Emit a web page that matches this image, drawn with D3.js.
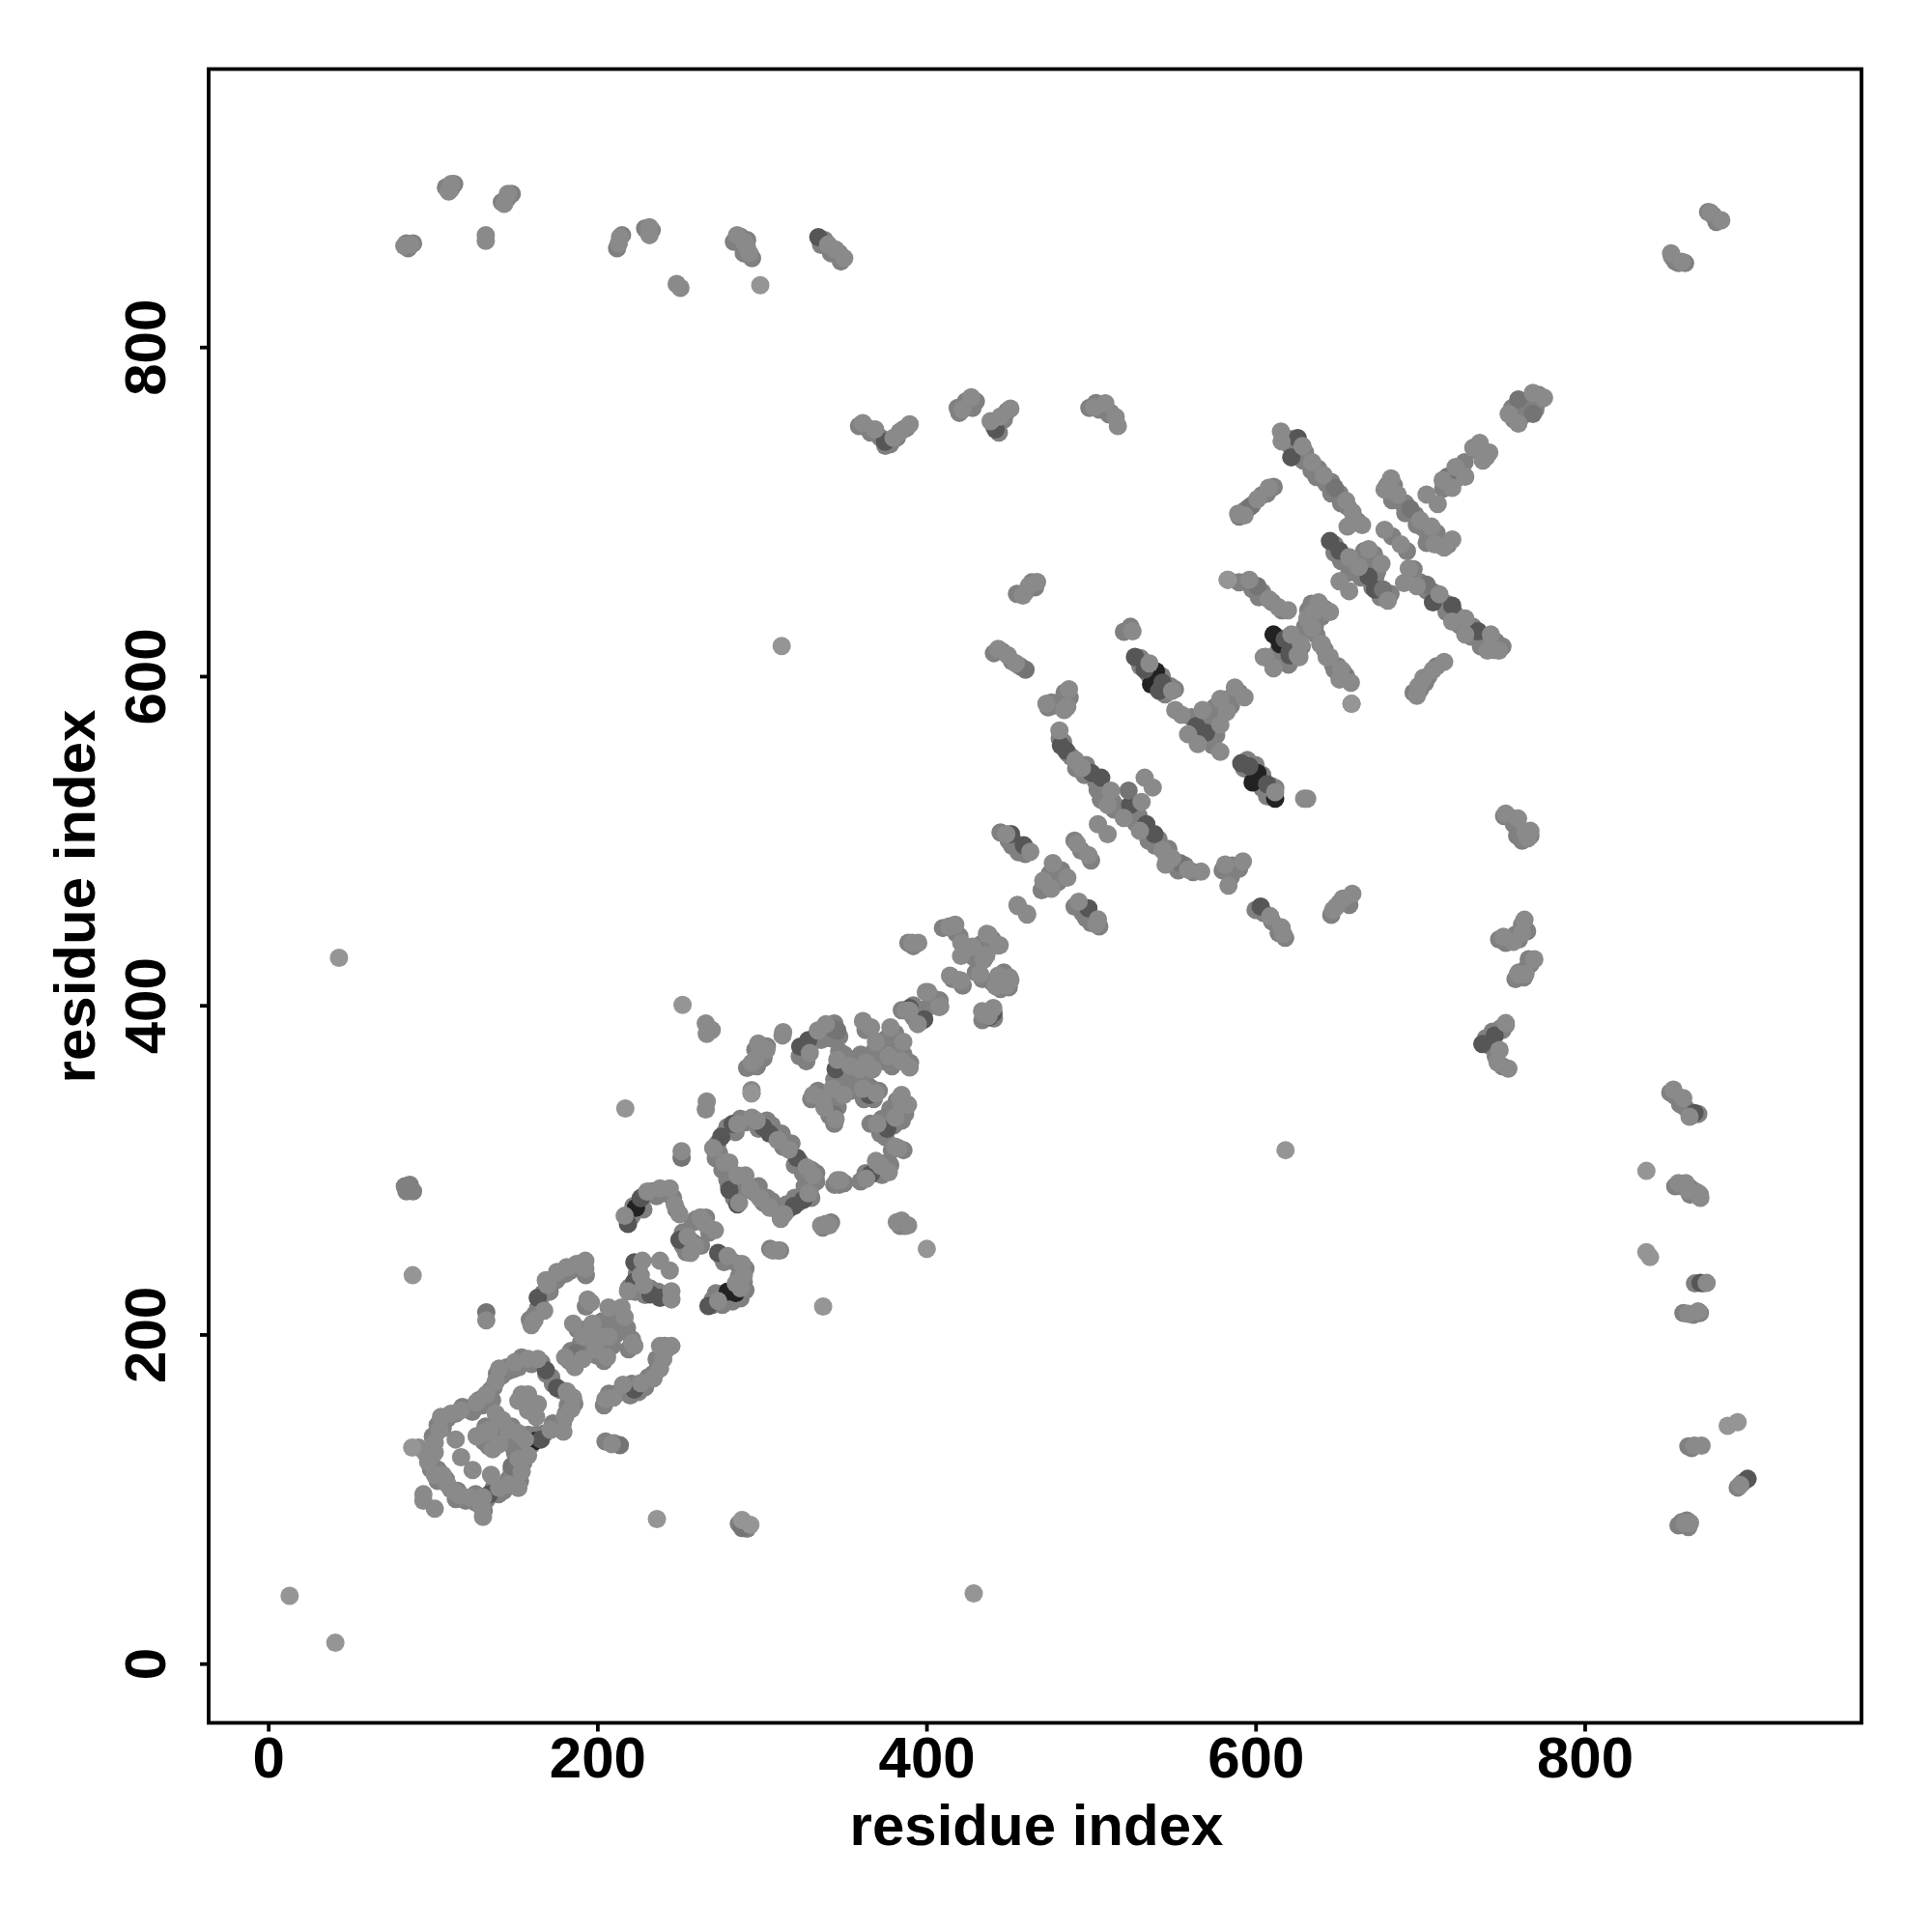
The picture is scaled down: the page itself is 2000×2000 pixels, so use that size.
<!DOCTYPE html>
<html><head><meta charset="utf-8">
<script src="https://cdn.jsdelivr.net/npm/d3@7/dist/d3.min.js"></script>
<style>html,body{margin:0;padding:0;background:#fff}text{font-family:"Liberation Sans",Arial,sans-serif;font-weight:bold;fill:#000}</style>
</head><body><svg id="c" width="2000" height="2000" xmlns="http://www.w3.org/2000/svg"></svg>
<script>
const xTickValues=[0,200,400,600,800];
const yTickValues=[0,200,400,600,800];
const xTitle="residue index";
const yTitle="residue index";
const contactsVeryDark=[[161.8,135.2],[223.5,277],[284.1,225.2],[279.2,226.1],[539.5,602.9],[536.5,595],[601.1,541.2],[598.2,535.4],[611.9,525.6],[610.9,625.3],[614.8,619.5]];
const contactsDark=[[168.7,178.3],[175.5,167.5],[165.7,136.2],[134.4,103],[163.8,222.3],[222.5,166.5],[222.5,243.8],[222.5,232.1],[232.3,224.3],[238.1,222.3],[323.3,374.9],[328.2,378.8],[218.6,267.2],[226.4,282.9],[249.9,257.5],[273.4,249.6],[267.5,217.3],[275.3,320.1],[282.2,327.9],[300.8,326],[304.7,322],[321.3,307.4],[325.2,281.9],[319.4,278],[280.2,287.8],[285.1,279],[366.3,297.6],[376.1,325],[365.3,345.5],[344.8,361.2],[389.8,398.4],[398.6,391.5],[440.7,395.4],[526.7,611.7],[532.6,603.9],[543.4,596],[541.4,591.1],[591.3,547.1],[596.2,545.2],[607,534.4],[481.7,557.9],[484.7,554.9],[500.3,541.2],[506.2,538.3],[523.8,521.7],[533.6,510],[538.5,504],[451.4,504],[459.2,497.2],[498.4,459],[603.1,460],[563.9,569.6],[569.8,565.7],[621.7,733],[625.6,744.7],[719.5,642.9],[735.2,627.3],[707.8,644.9],[645.2,682.1],[651,676.2],[672.6,652.7],[668.7,660.5],[620.7,612.6],[617.7,622.5],[620.7,614.6],[374.8,742.5],[442,750],[334.3,866.8],[397.3,390.7],[438.4,393],[737.8,376.5],[745.3,381.7],[866.7,334.6],[870.4,231.3],[899,112.3]];
const contactsMid=[[187.3,189],[148,120],[343.8,385.6],[345.8,384.7],[343.8,333.8],[522.8,530.5],[554.1,486.4],[648.1,714.4],[703.9,655.6],[694.1,701.6],[716.6,721.2],[759.7,768.2],[768.5,759.4],[677.5,652.7],[601.1,654.7],[596.2,702.6],[653,602.8],[132.5,213.5],[288,82.4],[460.2,603.9],[213.7,132.7],[251.2,307.4]];
const contactsBaseUnder=[[618,745],[622,744],[621,740],[626,737],[630,736],[629,731],[634,725],[638,726],[637,721],[643,717],[646,718],[646,711],[651,711],[652,705],[656,703],[660,696],[662,694],[683,685],[692,676],[696,665],[700,657],[704,652],[708,651],[709,646],[713,645],[716,644],[716,639],[721,638],[723,636],[724,631],[730,630],[732,630],[731,624],[737,623],[739,622],[737,618],[744,620],[746,621],[745,616],[750,618],[680,716],[684,716],[683,707],[688,706],[691,705],[691,699],[697,698],[698,692],[702,690],[705,685],[710,687],[704,681],[712,680],[717,680],[648,680],[648,675],[654,672],[652,670],[658,667],[657,663],[664,671],[664,660],[670,668],[671,654],[673,661],[676,648],[678,648],[682,650],[666,676],[672,674],[674,664],
[446,615],[452,609],[457,606],[441,614],[529,609],[530,606],[534,607],[537,600],[540,599],[543,600],[546,593],[530,611],[535,601],[545,589],[548,594],[551,592],[593,544],[598,541],[601,536],[604,540],[604,532],[608,530],[595,549],[600,546],[607,527],[610,533],[612,532],
[481,562],[483,560],[486,553],[488,551],[491,544],[496,540],[497,546],[503,536],[504,531],[508,531],[506,525],[513,524],[514,519],[517,520],[520,518],[524,515],[527,511],[529,515],[535,504],[535,500],[539,497],[541,501],[546,490],[547,495],[553,482],[551,487],[557,485],[562,481],
[572,576],[575,581],[583,586],[590,590],[565,572],[572,562],[574,558],[585,582],[570,575],[561,575],[576,564],[574,570],[630,630],[637,634],[642,641],[640,636],[632,640],[634,644],[627,625],[615,623],[613,614],[623,619],[618,611],[620,607],[628,618],[622,610],[637,625],[636,630],[648,604],[647,607],[642,616],[655,600],[650,606],[590,657],[598,653],[604,651],[602,648],[610,645],[616,640],[607,711],[598,704],[604,710],[611,715],[590,697],[594,701],[700,592],[705,600],[710,606],[703,596],[696,590],[725,724],[717,716],[722,720],[714,714],[735,737],[740,733],[727,730],[756,763],[762,765],[765,762],[771,766],[772,771],[762,758],[757,756],[770,762],
[85,860],[84,863],[88,863],[111,896],[108,897],[113,899],[145,890],[148,893],[142,888],[231,870],[229,872],[233,871],[212,860],[215,868],[283,864],[287,867],[291,865],[289,857],[294,854],[338,865],[336,862],[342,857],[347,857],[348,852],[359,752],[364,751],[366,748],[372,745],[375,740],[378,741],[386,750],[382,745],[388,751],[424,767],[420,760],[424,765],[430,767],[428,763],[419,763],[441,752],[444,748],[447,756],[449,761],[503,766],[505,762],[499,763],[512,760],[511,759],[455,650],[460,651],[464,657],[466,654],[853,855],[855,852],[857,851],[861,851],[875,882],[878,880],[880,876],
[751,515],[755,514],[757,510],[760,506],[763,503],[762,500],[767,503],[759,503],[748,440],[752,438],[760,440],[758,443],[762,449],[765,445],[763,448],[766,428],[765,423],[760,420],[767,425],[758,416],[763,417],[740,380],[743,375],[744,384],[749,386],[750,385],[752,388],[742,378],[746,369],[750,363],[852,347],[855,345],[858,340],[861,338],[865,333],[869,334],[855,290],[859,290],[864,289],[867,287],[870,285],[864,285],[872,231],[867,231],[866,212],[860,213],[870,213],[865,131],[863,132],[896,110],[893,107],[857,84],[863,83],[862,87],[859,86],[290,84],[291,82],[286,85],[83,290],[85,288],[88,287],[84,287],[86,291],
[100,138],[103,145],[107,147],[102,140],[106,143],[109,149],[114,152],[118,156],[122,155],[128,160],[124,153],[130,157],[135,166],[130,161],[137,168],[136,160],[139,176],[142,175],[145,180],[146,178],[149,179],[154,186],[152,180],[160,182],[166,183],[169,176],[172,174],[173,170],[178,166],[183,160],[182,157],[186,158],[181,152],[179,146],[176,144],[173,146],[168,140],[163,139],[158,139],[160,133],[154,132],[153,129],[150,136],[148,133],[144,140],[141,145],[99,125],[99,118],[103,118],[103,111],[108,112],[111,106],[115,105],[114,100],[120,99],[126,98],[126,103],[133,100],[131,93],[137,107],[140,103],[143,105],[146,112],[150,111],[153,111],[148,118],[152,120],[155,122],[150,128],[156,130],[131,135],[134,132],[137,136],[132,144],[136,137],[140,145],[148,144],
[193,217],[199,204],[203,208],[209,207],[212,213],[210,203],[205,204],[193,203],[188,203],[195,195],[203,193],[209,193],[211,200],[200,187],[204,184],[184,190],[183,184],[190,195],[218,204],[221,197],[219,191],[162,212],[159,209],[164,216],[165,219],[167,225],[171,226],[172,232],[175,233],[178,236],[181,237],[184,239],[190,243],[193,236],[204,157],[207,164],[212,164],[218,165],[221,170],[220,163],[225,165],[229,168],[231,174],[234,176],[237,181],[236,185],[242,191],[241,193],[210,134],[205,135],[225,240],[224,237],[226,233],[220,229],[223,226],[229,224],[232,228],[235,225],[237,226],[241,224],[244,224],[224,243],[219,228],
[219,270],[221,272],[222,278],[225,280],[228,284],[228,276],[233,287],[236,284],[241,286],[244,285],[246,283],[248,276],[258,268],[260,270],[266,271],[268,262],[252,262],[252,254],[254,250],[258,256],[263,254],[275,248],[277,244],[281,245],[285,243],[290,240],[289,232],[286,235],[290,227],[282,226],[282,220],[278,222],[276,218],[270,218],[272,225],[270,221],[287,222],
[273,316],[277,322],[279,326],[284,323],[287,331],[290,329],[298,325],[303,330],[306,327],[308,321],[312,322],[313,314],[318,316],[320,303],[323,305],[325,298],[330,300],[333,293],[326,290],[328,292],[322,280],[320,283],[316,276],[315,279],[310,275],[306,281],[303,283],[301,280],[296,286],[298,290],[290,291],[288,287],[282,292],[283,283],[279,294],[276,300],[274,310],[280,290],[272,307],[333,298],[329,287],[330,283],[299,371],[303,375],[297,363],[291,362],[296,373],[301,368],[325,370],[328,375],[333,381],[331,378],[336,379],[340,384],[342,380],[347,381],[344,389],[327,366],[323,369],
[340,343],[334,348],[330,343],[346,338],[341,333],[344,328],[351,350],[354,348],[358,355],[353,355],[348,362],[356,367],[360,370],[363,353],[366,350],[362,343],[368,343],[371,348],[350,370],[347,372],[356,360],[360,358],[349,358],[344,355],[365,368],[371,372],[363,385],[372,378],[368,372],[376,380],[381,383],[383,373],[374,366],[379,363],[386,370],[390,365],[366,328],[372,322],[375,320],[380,327],[383,335],[385,330],[387,334],[378,337],[382,342],[373,331],[369,298],[373,297],[375,304],[363,298],[360,293],[378,303],[387,266],[384,266],[337,265],[342,268],[347,291],[350,292],[344,291],[386,312],[379,312],[305,252],[311,251],
[392,400],[385,397],[392,393],[394,390],[400,398],[403,405],[408,403],[396,395],[414,448],[410,447],[418,444],[420,442],[416,416],[422,412],[429,429],[426,435],[433,437],[440,440],[440,414],[446,411],[450,411],[447,420],[445,410],[437,395],[441,392],[434,391],[430,420],[434,416],[392,436],[389,438],
[450,500],[455,498],[456,493],[460,492],[445,505],[452,497],[490,500],[494,494],[500,488],[475,480],[480,475],[482,482],[470,470],[490,460],[495,456],[500,450],[497,453],[505,448],[600,458],[605,456],[610,451],[614,444],[618,441],[651,462],[655,463],[646,455],[657,461],[585,478],[590,483],[580,482],[586,485],[484,590],[487,587],[482,585],[474,581],[477,582],[520,627],[524,630],[476,584]];
const contactsBase=[[91.4,131.3],[95.3,128.4],[101.2,134.2],[98.2,128.4],[104.1,142],[105,149.9],[111,151.9],[116.8,153.8],[126.6,158.7],[132.5,163.6],[138.3,171.4],[140.3,179.2],[150,183.2],[157.9,185.1],[163.8,185.1],[181.4,165.5],[185.3,161.6],[184.3,154.8],[180.4,149.9],[179.4,141],[171.6,142],[156,136.2],[152,140.1],[146.2,142],[138.3,151.9],[142.3,148],[101.2,128.4],[97.2,122.5],[101.2,114.7],[106,114.7],[109,108.8],[112.9,104.9],[116.8,102],[122.7,101],[130.5,101],[130.5,89.2],[129.5,95.1],[140.3,106.8],[146.2,108.8],[152,106.8],[154,116.6],[152,124.4],[157.9,126.4],[94.3,102.9],[94.3,99],[101.2,94.1],[113.9,136.2],[117.2,125.4],[124.2,117.6],[126.6,138.2],[130.5,140.1],[134.4,142],[136.4,130.3],[140.3,133.3],[135.4,114.7],[154,163.6],[157.9,163.6],[163.8,157.7],[157.9,153.8],[162.8,149.9],[152,159.7],
[194.1,221.3],[196.1,219.4],[185.3,206.6],[197,206.6],[206.8,216.4],[214.7,216.4],[216.6,210.6],[191.2,198.8],[201,198.8],[206.8,198.8],[199,191],[205.9,186.1],[221.5,194.9],[222.5,193],[180.4,186.1],[191.2,185.1],[186.3,180.2],[159.9,205.7],[161.8,208.6],[167.7,214.5],[169.6,230.1],[168.7,233],[175.5,238],[181.4,240.9],[187.3,242.8],[192.7,244.8],[192.7,239.9],[132.5,208.6],[204.9,160.7],[209.8,161.6],[215.6,169.5],[226.4,170.4],[234.2,173.4],[238.1,179.2],[240.1,185.1],[238.1,193],[245,193],[208.8,133.3],
[227.4,244.8],[226.4,236],[218.6,226.2],[228.4,230.1],[238.1,244.8],[244,238.9],[245,221.3],[245,226.2],
[216.6,272.1],[230.3,286.8],[238.1,288.8],[244,288.8],[247,279],[249.9,273.1],[262.6,271.2],[265.5,267.2],[271.4,263.3],[254.8,259.4],[259.7,253.5],[256.7,249.6],[279.2,247.7],[288,242.8],[289,235.9],[287,228.1],[273.4,220.3],[284.1,231],
[265.9,389],[269.5,385],[266.5,382.7],[312.9,383.7],[312.5,381.7],[297.8,376.8],[302.7,372.9],[295.9,367],[293.9,365.1],[329.1,371],[334,384.7],[338.9,388.6],[293.7,348.5],[293.7,346.5],[266.5,341.6],[265.9,336.7],[251.2,311.3],
[270.4,313.2],[285.1,327.9],[293.9,331.8],[296.8,329.9],[309.6,318.1],[316.4,312.3],[327.2,301.5],[331.1,296.6],[328.2,285.8],[313.5,273.1],[311.5,270.2],[304.7,277],[298.8,282.9],[292.9,288.8],[290,296.6],[285.1,296.6],[280.2,304.4],[277.3,304.4],[286.1,280],
[347.7,293.7],[345.8,293.7],[338.9,267.2],[336,266.3],[340.9,266.3],[384.9,269.2],[388.8,266.3],[382,268.2],[309.6,251],[306.6,251],
[372.2,302.5],[377.1,298.6],[363.4,294.6],[369.3,305.4],[383,313.2],[381,314.2],[370.2,327.9],[381,331.8],[384.9,339.6],[388.8,339.6],[384.9,345.5],[383.9,343.6],
[344.8,330.8],[338,337.7],[331.1,345.5],[337,343.6],[342.8,349.4],[349.7,345.5],[369.3,346.5],[361.4,349.4],[359.5,361.2],[363.4,365.1],[353.6,363.1],[345.8,367],[367.3,361.2],[361.4,390.5],[366.3,386.6],[369.3,377.8],[378.1,386.6],[385.9,377.8],[377.1,369],[384.9,366.1],[389.8,362.2],
[399.6,408.1],[408.4,399.3],[394.7,388.6],[414.3,418],[421.1,415],[437.8,393.5],[434.8,394.5],[427.9,435.6],[436.7,443.4],[444.5,436.5],[434.8,427.7],[443.6,418],[450.4,417],[448.5,412],[440.6,398.4],[433.8,396.4],
[391.3,438],[395,438],[387.5,396.7],[389.7,396.7],[401,408],[407.7,399],[413.7,447.6],[417.5,449],[421.2,437.9],[419.7,415.4],[432.5,419],[437.7,443],[443.5,436.4],[436.4,430.4],[447.3,415.4],[451,415.4],[442,411.7],[421,430],
[443.6,616.6],[449.4,612.7],[454.3,607.8],[535.5,607.8],[549.3,591.1],[486.6,592.1],[472.9,583.3],[485.6,581.4],[483.7,579.4],[480.8,567],[490.5,549.1],[494.5,544.2],[512.1,530.5],[510.1,521.7],[530.7,523.6],[519.9,513.8],[532.6,538.3],[537.5,532.4],[504.2,510],[510.1,504],[529.7,506],[543.4,494.3],[549.3,489.4],[545.3,485.5],[559,482.5],[566.9,481.2],[581.5,485.5],[592.3,487.4],[583.5,472.7],[463.1,493.3],[448.5,504],[491.5,498.2],[498.4,491.3],[476.8,486.4],[471,475.7],[485.6,477.6],[475.9,470.8],[455.3,461],[461.2,455.1],[492.5,463],[504.2,452.2],[503.3,449.3],[608.9,454.2],[615.8,447.3],[616.8,443.4],[647.1,458],[653,464.9],[658.8,467.8],[649,460],[629.5,525.6],[631.4,525.6],[525.2,627.3],
[611.9,529.5],[551.2,579.4],[555.1,576.5],[567.8,579.4],[578.6,586.2],[587.4,593.1],[593.3,587.2],[578.6,570.6],[559,564.7],[564.9,558.8],[578.6,554],[582.5,578.4],
[627.5,619.5],[606,611.7],[610.9,604.8],[625.6,612.7],[639.3,619.5],[645.1,611.7],[652,603.9],[651,598],
[615.4,748.6],[615.8,742.7],[628.5,739.8],[634.4,730],[641.3,722.2],[655,706.5],[658.9,699.7],[664.7,691.9],[655.9,690.9],[678.4,688.9],[688.2,680.1],[693.1,665.4],[690.2,656.6],[711.7,649.8],[727.4,635.1],[743,625.3],[747.9,615.5],[741,615.5],[727.4,625.3],[719.5,633.1],[698,654.7],
[682.3,720.2],[678.4,713.4],[686.3,710.4],[700,694.8],[706.8,690.9],[708.8,680.1],[714.6,678.2],[719.5,683],[703.9,710.4],[710.7,704.6],[732.3,738.8],[736.2,741.8],[742,735.9],[738.1,731],[713.7,719.2],[721.5,727.1],[727.4,721.2],[719.5,714.4],[753.8,759.4],[775.3,769.2],[768.5,772.1],[759.7,753.5],
[656.9,672.3],[668.7,677.2],[676.5,668.4],[651,657.6],[656.9,651.7],[680.4,645.9],[662.8,666.4],[608,714.4],[601.1,707.5],[589.4,698.7],[593.3,697.7],[583.1,658.6],[596.2,658.6],[608,646.8],[613.9,641.9],[619.7,640],[638.3,644.9],[645.2,639],[631.5,635.1],[635.4,639],[634.4,629.2],[640.3,619.5],[643.2,611.6],[657.9,596],[658.3,583.2],[621.7,625.3],[626.6,611.6],[605,611.6],[610.9,605.2],[714.6,608.7],[707.8,603.8],[701.9,598.9],[698,588.1],[699,594],
[86.5,862.3],[82.7,861.5],[111.2,899],[109.7,894.5],[145.6,893],[143.4,887],[132.2,868],[132.2,864.5],[213.8,866.8],[213,863],[231.7,872.8],[231.7,868],[248.2,838.3],[250.5,836],[284.9,868],[289.4,863.8],[292.4,857],[290.9,860.8],[340.3,862.3],[344.7,859.3],[350,854],
[361.3,753.8],[368.8,750],[380,744.8],[383.8,748.5],[389.8,753],[422,762],[427.2,769.5],[439,755],[445,757.7],[451,762.6],[502,763.5],[508.7,765.8],[515,757.5],[516.3,752],[458.6,649],[462.4,655],[467.2,657.2],[852.5,857],[859,851.8],[876.3,881.7],[883,877],
[752,516.5],[759.5,513.5],[764,505.2],[765.5,501.5],[767,506],[750.6,441.6],[756.6,438.6],[763.4,452],[761.9,443.9],[769.4,428],[764,419],[759.5,419],[752,389.2],[748.3,372.8],[753.6,361.5],[747,365.3],[853.9,348.8],[859.9,343.6],[863.7,332.3],[856.9,292],[861.4,292],[868.9,286],[870.3,283],[862.9,287.5],[874.1,231.3],[862.9,212.6],[868.9,214],[866.7,132.5],[871,132.5],[894.5,108.5],[860.7,85.3],[864,85.5],[455.6,460.3],[461,455.8]];
const contactsFaint=[[87.5,131.3],[87.8,236],[251.8,400.3],[217,337.3],[293.7,346.5],[337.2,217],[400.2,252],[236.2,87.9],[288,87.3],[293,84.3],[299,837.6],[312,618.3],[43,428.9],[618.2,312],[428.7,42.7],[13,41.2],[40.8,12.7],[583.1,658.6],[658.3,583.2],[837.5,299.4],[837.5,250],[839.7,247],[886.9,144.5],[892.9,146.7]];
const shades=["#808080","#222222","#565656","#747474","#8a8a8a","#959595"];
const layers=[contactsBaseUnder,contactsVeryDark,contactsDark,contactsMid,contactsBase,contactsFaint];

const svg=d3.select("#c");
const x=d3.scaleLinear().domain([-36.2,968.2]).range([216,1927]);
const y=d3.scaleLinear().domain([-36,968.9]).range([1783.5,71.5]);

const g=svg.append("g");
layers.forEach((pts,k)=>{
  g.append("g").selectAll("circle").data(pts).join("circle")
    .attr("cx",d=>x(d[0])).attr("cy",d=>y(d[1])).attr("r",9.5).attr("fill",shades[k]);
});

svg.append("rect").attr("x",216).attr("y",71.5).attr("width",1711).attr("height",1712)
  .attr("fill","none").attr("stroke","#000").attr("stroke-width",3.8);

const ax=svg.append("g").attr("transform","translate(0,1783.5)")
  .call(d3.axisBottom(x).tickValues(xTickValues).tickSize(9).tickPadding(0).tickFormat(d3.format("d")));
ax.select(".domain").remove();
ax.selectAll("line").attr("stroke","#000").attr("stroke-width",3.8);
ax.selectAll("text").attr("dy",null).attr("y",56.5).attr("text-anchor","middle").attr("font-size",60).attr("fill","#000");

const ay=svg.append("g").attr("transform","translate(216,0)")
  .call(d3.axisLeft(y).tickValues(yTickValues).tickSize(9).tickPadding(0).tickFormat(d3.format("d")));
ay.select(".domain").remove();
ay.selectAll("line").attr("stroke","#000").attr("stroke-width",3.8);
ay.selectAll("text").attr("dy",null).attr("x",0).attr("y",0).attr("text-anchor","middle").attr("font-size",60).attr("fill","#000")
  .attr("transform","translate(-45,0) rotate(-90)");

svg.append("text").attr("x",1073).attr("y",1910).attr("text-anchor","middle").attr("font-size",60).text(xTitle);
svg.append("text").attr("text-anchor","middle").attr("font-size",60)
  .attr("transform","translate(98,928) rotate(-90)").text(yTitle);
</script></body></html>
